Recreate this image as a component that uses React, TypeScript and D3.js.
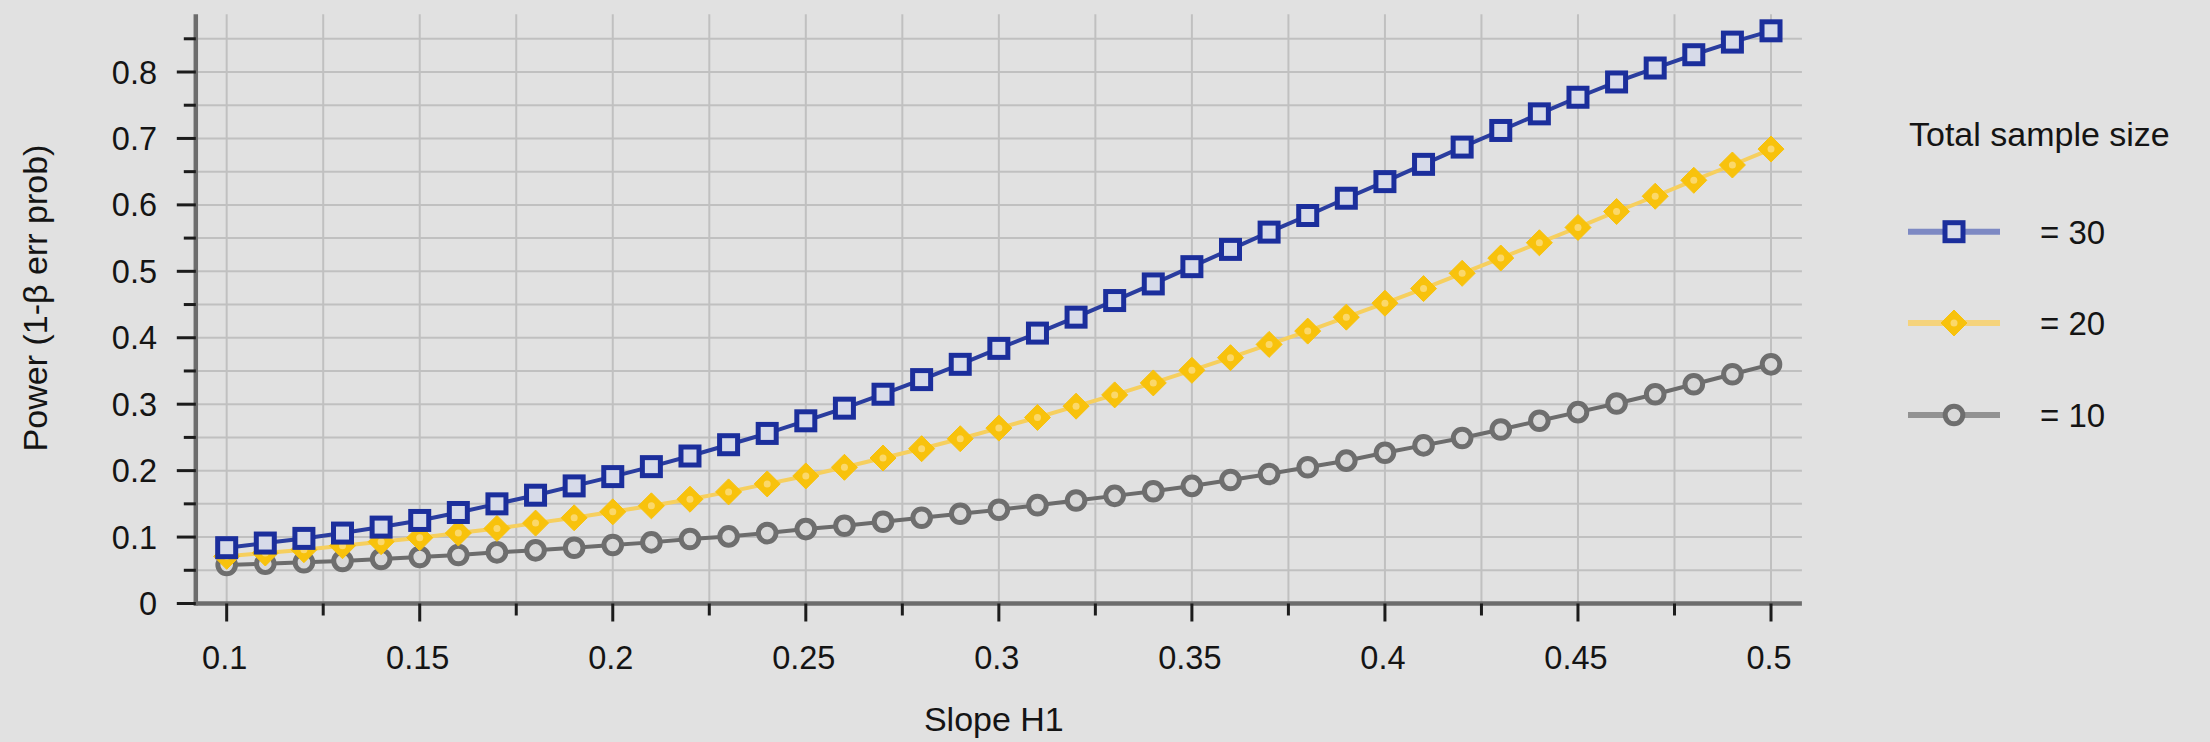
import React from "react";
import * as d3 from "d3";

const slopes = [0.1,0.11,0.12,0.13,0.14,0.15,0.16,0.17,0.18,0.19,0.2,0.21,0.22,0.23,0.24,0.25,0.26,0.27,0.28,0.29,0.3,0.31,0.32,0.33,0.34,0.35,0.36,0.37,0.38,0.39,0.4,0.41,0.42,0.43,0.44,0.45,0.46,0.47,0.48,0.49,0.5];

const power30 = [0.084,0.091,0.098,0.106,0.115,0.125,0.137,0.15,0.163,0.177,0.191,0.206,0.222,0.239,0.256,0.275,0.294,0.315,0.337,0.36,0.384,0.407,0.431,0.456,0.481,0.507,0.533,0.559,0.584,0.61,0.635,0.661,0.687,0.712,0.737,0.762,0.785,0.806,0.826,0.845,0.862];
const power20 = [0.071,0.076,0.081,0.087,0.093,0.099,0.106,0.113,0.121,0.129,0.138,0.147,0.157,0.168,0.18,0.192,0.205,0.219,0.233,0.248,0.264,0.28,0.297,0.314,0.332,0.351,0.37,0.39,0.41,0.431,0.452,0.474,0.497,0.52,0.543,0.566,0.59,0.613,0.637,0.66,0.684];
const power10 = [0.058,0.06,0.062,0.064,0.067,0.07,0.073,0.077,0.08,0.084,0.088,0.092,0.097,0.101,0.106,0.112,0.117,0.123,0.129,0.135,0.141,0.148,0.155,0.162,0.169,0.177,0.186,0.195,0.205,0.215,0.227,0.238,0.249,0.262,0.275,0.288,0.301,0.315,0.33,0.345,0.36];

const xTickValues = [0.1,0.15,0.2,0.25,0.3,0.35,0.4,0.45,0.5];
const xTickLabels = ["0.1","0.15","0.2","0.25","0.3","0.35","0.4","0.45","0.5"];
const xMinorValues = [0.125,0.175,0.225,0.275,0.325,0.375,0.425,0.475];
const yTickValues = [0,0.1,0.2,0.3,0.4,0.5,0.6,0.7,0.8];
const yTickLabels = ["0","0.1","0.2","0.3","0.4","0.5","0.6","0.7","0.8"];
const yMinorValues = [0.05,0.15,0.25,0.35,0.45,0.55,0.65,0.75,0.85];

const legendTitle = "Total sample size";
const seriesLabels = ["= 30","= 20","= 10"];
const xTitle = "Slope H1";
const yTitle = "Power (1-\u03b2 err prob)";

const FONT = "'Liberation Sans', Arial, Helvetica, sans-serif";
const BG = "#e1e1e1";
const GRID = "#c0c0c0";
const AXIS = "#6c6c6c";
const TXT = "#141414";

const BLUE = "#1b2e9c";
const BLUE_LINE = "#2a3d9f";
const BLUE_LEG = "#7d89c3";
const GOLD = "#f8c20c";
const GOLD_LINE = "#f6cf5e";
const GOLD_LEG = "#f5d37c";
const GRAY = "#6e6e6e";
const GRAY_LINE = "#6c6c6c";
const GRAY_LEG = "#929292";

function Marker({ kind, x, y }: { kind: string; x: number; y: number }) {
  if (kind === "square") {
    return <rect x={x - 9} y={y - 9} width={18} height={18} fill="#d7dbe9" stroke={BLUE} strokeWidth={5} />;
  }
  if (kind === "diamond") {
    const s = 13;
    return (
      <g>
        <path d={`M${x},${y - s}L${x + s},${y}L${x},${y + s}L${x - s},${y}Z`} fill={GOLD} stroke={GOLD} strokeWidth={1} />
        <circle cx={x} cy={y} r={3.5} fill="#fbd86a" />
      </g>
    );
  }
  return <circle cx={x} cy={y} r={8.8} fill="#d9d9d9" stroke={GRAY} strokeWidth={5} />;
}

export default function App() {
  const x = d3.scaleLinear().domain([0.092, 0.508]).range([195.8, 1801.9]);
  const y = d3.scaleLinear().domain([0, 0.887]).range([603.5, 14.2]);
  const x0 = x(0.092);
  const x1 = x(0.508);
  const y0 = y(0);
  const yTop = y(0.887);

  const line = d3.line<[number, number]>().x((d) => x(d[0])).y((d) => y(d[1]));
  const series = [
    { vals: power10, color: GRAY_LINE, kind: "circle" },
    { vals: power20, color: GOLD_LINE, kind: "diamond" },
    { vals: power30, color: BLUE_LINE, kind: "square" },
  ];

  const gridX = [...xTickValues, ...xMinorValues];
  const gridY = [...yTickValues.filter((v) => v > 0), ...yMinorValues];

  const legendRows = [
    { label: seriesLabels[0], color: BLUE_LEG, kind: "square", yy: 231.7 },
    { label: seriesLabels[1], color: GOLD_LEG, kind: "diamond", yy: 323 },
    { label: seriesLabels[2], color: GRAY_LEG, kind: "circle", yy: 415 },
  ];

  return (
    <svg width={2210} height={742} style={{ position: "absolute", left: 0, top: 0, background: BG }} fontFamily={FONT}>
      <rect x={0} y={0} width={2210} height={742} fill={BG} />
      {gridX.map((v, i) => (
        <line key={"gx" + i} x1={x(v)} x2={x(v)} y1={yTop} y2={y0} stroke={GRID} strokeWidth={2} />
      ))}
      {gridY.map((v, i) => (
        <line key={"gy" + i} x1={x0} x2={x1} y1={y(v)} y2={y(v)} stroke={GRID} strokeWidth={2} />
      ))}
      <line x1={x0} x2={x0} y1={yTop} y2={y0 + 2} stroke={AXIS} strokeWidth={4.5} />
      <line x1={x0 - 2} x2={x1} y1={y0} y2={y0} stroke={AXIS} strokeWidth={4.5} />
      {yTickValues.map((v, i) => (
        <line key={"yt" + i} x1={x0 - 19} x2={x0} y1={y(v)} y2={y(v)} stroke="#1c1c1c" strokeWidth={3} />
      ))}
      {yMinorValues.map((v, i) => (
        <line key={"ym" + i} x1={x0 - 12} x2={x0} y1={y(v)} y2={y(v)} stroke="#1c1c1c" strokeWidth={3} />
      ))}
      {yTickValues.map((v, i) => (
        <text key={"yl" + i} x={157} y={y(v) + 11.5} textAnchor="end" fontSize={32.5} fill={TXT}>
          {yTickLabels[i]}
        </text>
      ))}
      {xTickValues.map((v, i) => (
        <line key={"xt" + i} x1={x(v)} x2={x(v)} y1={y0} y2={y0 + 18} stroke="#1c1c1c" strokeWidth={3} />
      ))}
      {xMinorValues.map((v, i) => (
        <line key={"xm" + i} x1={x(v)} x2={x(v)} y1={y0} y2={y0 + 12} stroke="#1c1c1c" strokeWidth={3} />
      ))}
      {xTickValues.map((v, i) => (
        <text key={"xl" + i} x={x(v) - 2} y={669} textAnchor="middle" fontSize={32.5} fill={TXT}>
          {xTickLabels[i]}
        </text>
      ))}
      <text x={(x0 + x1) / 2 - 5} y={731} textAnchor="middle" fontSize={34} fill={TXT}>
        {xTitle}
      </text>
      <text transform={`translate(47,298) rotate(-90)`} textAnchor="middle" fontSize={34} fill={TXT}>
        {yTitle}
      </text>
      {series.map((s, si) => {
        const pts: [number, number][] = slopes.map((sl, i) => [sl, s.vals[i]]);
        return (
          <g key={"s" + si}>
            <path d={line(pts) || ""} fill="none" stroke={s.color} strokeWidth={4} />
            {pts.map((p, i) => (
              <Marker key={i} kind={s.kind} x={x(p[0])} y={y(p[1])} />
            ))}
          </g>
        );
      })}
      <text x={1909} y={146} fontSize={34} fill={TXT}>
        {legendTitle}
      </text>
      {legendRows.map((r, i) => (
        <g key={"lg" + i}>
          <line x1={1908} x2={2000} y1={r.yy} y2={r.yy} stroke={r.color} strokeWidth={6} />
          <Marker kind={r.kind} x={1954} y={r.yy} />
          <text x={2040} y={r.yy + 12} fontSize={33} fill={TXT}>
            {r.label}
          </text>
        </g>
      ))}
    </svg>
  );
}
